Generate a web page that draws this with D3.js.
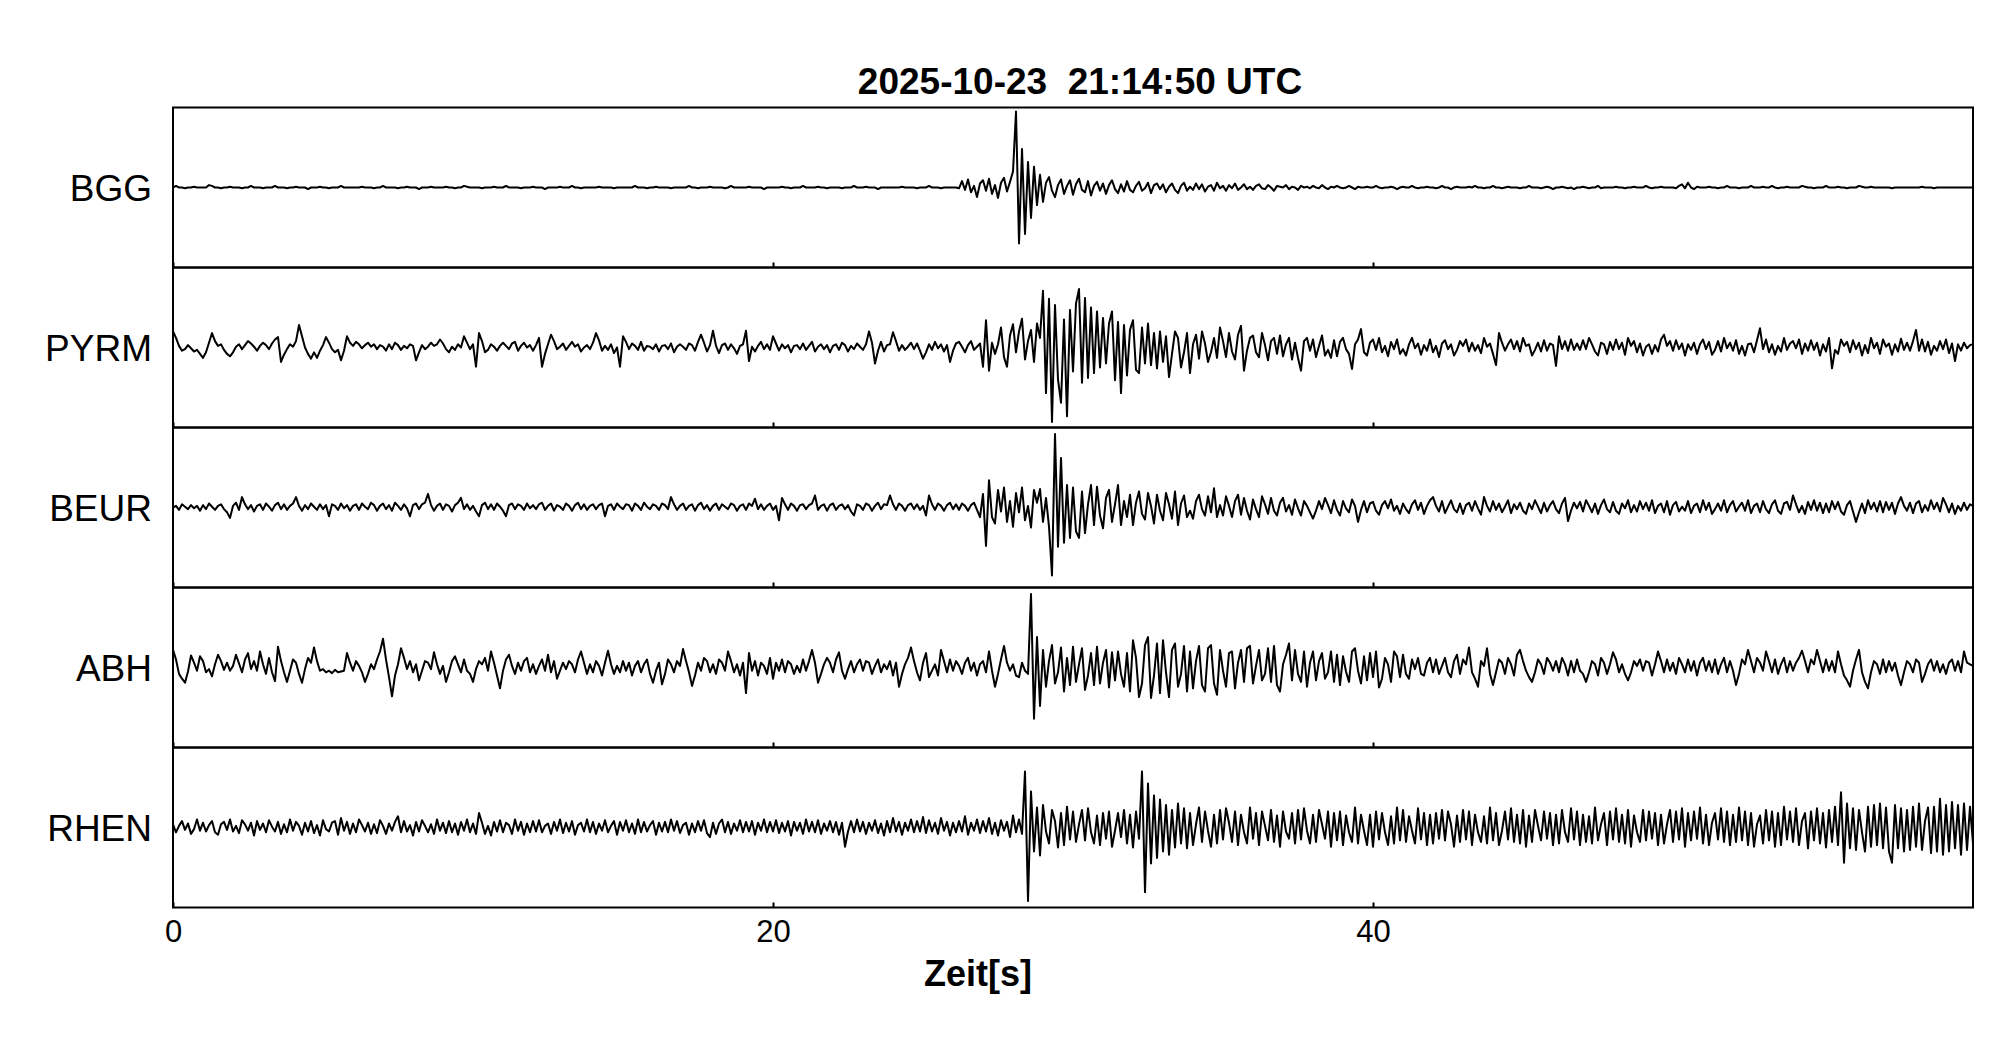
<!DOCTYPE html>
<html>
<head>
<meta charset="utf-8">
<script src="https://cdn.jsdelivr.net/npm/d3@7"></script>
<style>
body { margin: 0; background: #fff; }
text { font-family: "Liberation Sans", Arial, sans-serif; fill: #000; }
</style>
</head>
<body>
<script>
var title = "2025-10-23  21:14:50 UTC";
var xLabel = "Zeit[s]";
var stations = ["BGG", "PYRM", "BEUR", "ABH", "RHEN"];
var xTicks = [0, 20, 40];
var dt = 0.1; // seconds between samples

// normalized amplitudes, 10 samples per second
var bgg = [
0,2,0,0,-1,0,0,1,0,0, 0,0,3,2,0,0,-1,0,0,1, 0,0,0,-1,0,0,2,0,0,0, -1,0,0,0,2,0,0,0,-1,0,
0,1,0,0,0,-2,0,0,0,1, 0,0,-1,0,0,0,2,0,0,0, 0,0,0,1,0,0,0,-1,0,0, 2,0,0,0,0,-1,0,0,1,0,
0,0,-2,0,0,0,1,0,0,0, 0,1,0,0,-1,0,0,2,1,0, 0,0,0,-1,0,0,0,1,0,0, 0,2,0,0,0,0,-1,0,0,0,
1,0,0,0,-2,0,0,0,0,1, 0,0,0,2,0,0,-1,0,0,0, 0,0,1,0,0,0,0,-1,0,0, 0,0,0,0,2,0,0,0,-1,0,
0,1,0,0,0,0,-1,0,0,0, 0,0,2,0,0,-1,0,0,0,1, 0,0,0,0,-1,0,2,0,0,0, 0,0,1,0,0,0,0,-2,0,0,
0,0,0,1,0,0,-1,0,0,0, 2,0,0,0,0,1,0,0,-1,0, 0,0,0,-1,0,0,0,2,0,0, 0,1,0,0,0,-2,0,0,0,0,
0,0,0,1,0,0,0,0,-1,0, 0,0,2,0,0,0,-1,0,0,0, 0,0,-1,8,-3,10,-6,2,-12,5, 9,-4,11,-8,3,-13,6,12,-5,7,
20,95,-70,48,-58,32,-38,26,-22,16, -18,6,13,-4,-12,3,10,-8,2,9, -9,4,11,-3,-6,8,-10,2,7,-4, 5,-8,3,9,-2,-7,4,-5,8,-3,
-6,2,7,-4,-1,6,-7,3,5,-2, 4,-6,1,5,-3,-7,2,6,-4,1, -3,5,-2,4,-5,1,3,-4,6,-1, 2,-4,3,-1,5,-3,0,4,-2,1,
-3,2,4,-1,-2,3,0,-4,2,1, 0,3,-2,1,0,-3,2,0,1,-1, 2,0,-1,3,0,-2,1,0,2,0, -1,0,2,0,-2,1,0,0,1,0,
0,2,0,-1,0,0,1,0,-2,0, 1,0,0,2,0,-1,0,0,1,0, 0,-1,0,2,0,0,-2,0,1,0, 0,0,1,0,2,0,0,-1,0,0,
2,0,0,-1,0,1,0,0,0,-1, 0,0,2,0,0,0,-1,0,1,0, -2,0,0,1,0,-1,0,-2,0,0, 1,0,-1,0,0,2,-1,0,0,0,
0,1,0,0,-1,0,0,1,0,0, 0,2,0,-1,0,0,1,0,0,0, 0,-1,2,4,-1,6,0,-2,1,0, 0,0,1,0,0,-1,0,0,2,0,
0,0,-1,0,0,0,2,0,0,0, 1,0,0,2,0,-1,0,0,1,0, 0,0,0,2,1,0,0,-1,0,0, 0,2,0,0,0,1,0,0,-1,0,
0,0,2,1,0,0,1,0,0,0, 0,0,0,-1,0,0,0,0,0,0, 0,0,0,1,0,0,0,-1,0,0, 0,0,0,0,0,0,0,0,0,0,
0];

var pyrm = [
20,12,2,-4,-2,3,-1,-5,-3,-8, -13,-6,6,18,8,2,4,-3,-8,-11, -6,1,4,-2,3,8,5,1,-4,2, 6,3,-2,5,10,13,-18,-9,-2,4,
1,8,28,14,0,-8,-14,-6,-13,-4, 3,13,6,-2,-6,-3,-16,-4,14,6, 2,7,4,-1,3,6,1,4,-2,3, 1,-4,4,-2,6,3,-3,2,-1,4,
2,-16,-6,3,-2,1,6,2,4,10, 5,-2,-6,1,-3,4,0,14,6,-2, 4,-24,18,8,-6,-3,4,1,-4,2, 6,2,-2,5,7,-4,2,6,0,3,
-4,3,12,-24,-8,4,16,8,-2,1, 5,-3,2,7,1,4,-5,0,3,-2, 6,18,9,-4,2,-3,4,-7,0,-24, 14,7,-2,5,2,-3,7,-4,2,1,
-2,4,-5,2,3,-2,5,-6,1,4, 1,-3,5,3,-4,7,16,6,-5,3, 21,2,-7,3,5,-3,4,-1,-8,2, 4,21,-17,1,-5,2,7,-2,4,-3,
14,5,-4,4,-1,3,-6,2,3,-2, 5,-3,2,7,-5,1,4,-2,3,-6, 2,4,-3,6,3,-5,2,-2,5,1, -3,4,20,6,-20,-4,7,-5,3,4,
19,8,-4,3,-3,1,6,-2,5,-4, -14,-6,4,-3,7,-1,4,-5,3,-18, -4,5,7,1,-6,3,8,-3,1,5, -24,34,-29,6,-8,4,25,-12,-24,15,
29,-6,20,36,-15,8,22,-18,30,12, 71,-57,61,-93,53,-40,-69,35,-86,47, -30,55,73,-44,62,-38,50,-32,45,-25, 37,-20,30,45,-41,32,-57,28,-35,22,
34,-28,-32,25,-20,30,-22,18,-26,20, -18,14,-37,-8,20,12,-25,-6,18,-32, 4,16,-14,20,5,-18,-6,12,-13,25, 8,-12,18,-5,-15,16,27,-29,-4,12,
15,-6,-12,18,3,-16,8,12,-8,15, -11,4,12,-15,6,-13,-29,8,12,-4, 10,-12,2,15,-10,-3,-13,9,-11,7, 12,-2,-8,-27,4,10,23,-6,-10,6,
10,-3,12,-6,2,-11,7,-2,10,-8, -2,-10,4,12,-1,5,-9,3,-4,10, -6,2,-12,5,9,-2,4,-10,-3,8, 2,10,-5,6,-4,3,-7,12,1,5,
-8,-22,18,6,-4,4,10,-2,8,-5, 12,2,4,-10,-3,6,-5,9,-4,5, 3,-23,14,-2,8,-4,10,-3,5,-3, 9,-2,12,4,-5,-10,6,4,-8,7,
-3,10,-2,6,-9,12,2,8,-6,5, -10,1,4,-8,3,-5,10,16,2,8, -4,9,-2,5,-10,4,-3,6,-8,4, 10,-2,7,-9,-3,8,-5,12,-1,6,
-4,9,-8,2,-10,4,5,-6,9,24, -2,10,-6,4,-9,2,-5,12,-3,5, 8,-1,10,-8,5,-4,9,-3,6,-10, 4,-5,12,-26,-3,-8,10,2,7,-6,
9,-2,6,-10,3,-7,12,-1,6,-8, 10,1,5,-9,4,-5,11,-3,6,-4, 8,22,-4,10,-5,7,-9,2,-4,8, -2,10,-7,5,-17,4,-4,6,-1,3,
4];

var beur = [
0,2,-3,4,1,-2,3,-1,2,-4, 3,-2,5,1,-3,2,4,-2,-6,-13, 2,6,-3,13,4,-2,3,-5,2,4, -3,5,1,-4,3,6,-2,4,-3,2,
5,13,2,-4,3,-2,5,1,-3,4, -2,3,-11,4,2,-3,5,-1,3,-4, 2,4,-3,5,1,-2,6,3,-4,2, 5,-2,3,-4,6,2,-3,4,-1,-11,
3,5,-2,4,6,17,3,-4,2,5, -3,4,2,-5,3,6,12,-2,4,-3, 2,-5,-11,3,6,-2,4,-3,5,1, -4,-11,3,5,-2,4,2,-3,5,-1,
3,-2,4,6,-3,2,5,-4,3,1, -3,5,2,-4,3,6,-2,4,-3,2, 4,-2,3,5,-11,2,4,-3,5,1, -2,4,3,-4,5,2,-3,6,1,-2,
4,2,-3,5,3,-2,13,4,-3,2, 5,-3,2,4,-4,3,6,-2,3,-4, 2,5,-3,4,1,-2,5,3,-4,2, 4,-3,5,2,11,-2,4,-3,2,5,
-3,2,-16,12,4,-3,5,2,-4,3, 4,-2,3,5,15,-3,2,4,-4,3, 5,-3,2,4,-2,3,-5,-10,4,2, -3,5,3,-4,2,6,-2,4,3,15,
4,-3,5,2,-4,3,5,-2,4,-3, 2,-10,15,4,-3,5,2,-4,3,6, -2,4,-3,5,2,-4,3,6,-3,-12, 17,-48,34,-12,-20,22,-5,25,-18,8,
-24,18,-6,25,-16,2,-25,22,6,23, -18,12,-24,-85,92,-49,62,-44,28,-38, 25,-30,-38,20,-32,4,28,-22,26,-10, -26,12,22,-18,4,28,-22,8,-12,16,
-22,6,20,-8,-15,18,2,-20,16,-4, -16,18,4,-14,20,-22,5,15,-12,-4, -14,8,16,-2,-10,14,-6,24,-12,3, -10,14,2,-12,8,16,-9,12,-4,-15,
10,-2,-12,14,4,-8,12,-4,-10,6, 12,-5,3,-9,10,-1,-10,8,2,-6, -14,-4,8,-2,12,3,-7,9,-3,-10, 8,-1,-6,10,2,-18,-3,8,-6,5,
7,-4,-9,3,8,-1,10,-4,2,-8, 5,-2,-7,4,9,-3,6,-8,2,9, 13,2,-5,8,-7,1,9,-2,-6,5, -8,3,6,-4,8,-1,-9,13,2,-5,
8,-3,5,-6,1,9,-7,4,-2,6, -4,-8,5,-2,9,1,-7,6,-5,3, 8,-2,-7,5,12,-17,-4,6,-1,7, -5,9,2,-6,5,-8,3,10,-2,-6,
7,-4,-8,5,-1,9,-6,3,-5,8, -2,6,-4,9,-7,2,5,-6,8,-9, 3,7,-5,1,-4,8,-7,2,5,-6, 9,-3,6,-8,-2,5,-4,9,-6,3,
8,-5,1,6,-4,9,-7,2,5,-6, 8,-2,-7,4,9,-4,-8,5,7,-3, 15,4,-6,2,-8,7,-3,9,-4,6, -7,5,-6,8,-2,7,-5,-9,3,8,
-5,-18,-6,5,-7,9,-2,6,-5,8, -6,7,-3,6,-8,5,13,2,-4,6, -7,5,8,-6,3,-4,9,-2,6,-5, 12,4,-6,5,-8,2,-4,6,-3,4,
2];

var abh = [
22,10,-8,-14,-19,-5,15,6,-4,14, 8,-6,-2,-11,4,16,8,-3,6,-4, 2,16,5,-6,10,18,-2,8,-4,20, 4,-8,12,-6,-17,26,8,-6,-18,-4,
10,6,-8,-19,-2,12,6,25,8,-4, -2,-6,-4,-7,-3,-6,-5,-4,18,6, -4,8,2,-6,-18,-8,4,-2,10,20, 36,10,-12,-36,-10,4,24,12,-2,8,
-6,4,-16,-4,8,6,-2,19,4,-8, 2,-18,-6,8,14,4,-6,10,-4,-8, -18,-2,8,4,12,-4,20,6,-10,-26, -4,10,16,2,-8,6,-4,8,12,-6,
4,-8,2,10,-4,16,-6,8,-14,-4, 6,-2,8,4,-6,10,20,6,-8,4, -6,8,2,-10,6,21,4,-8,2,-6, 8,-4,6,-10,2,8,-6,4,10,-8,
-19,-4,6,-21,-8,10,4,-6,8,2, 23,8,-6,-23,-10,6,-4,12,8,-6, 4,-8,10,6,-4,20,8,-6,4,-10, 6,-32,18,-4,8,-10,6,2,-8,12,
-14,6,-4,10,-6,8,4,-8,2,-6, 10,-4,8,22,6,-19,-8,4,12,6, -6,10,19,-4,-14,-2,8,-6,4,10, -4,8,6,-8,2,10,-6,4,-2,8,
-10,6,-24,-8,4,12,25,8,-6,-16, 6,18,-12,-4,4,-10,22,8,-6,10, -4,8,2,-8,6,12,-4,6,-10,4, 8,-6,20,-4,-24,-8,10,27,6,-4,
4,-10,-12,6,-4,-8,92,-64,38,-48, 22,-24,8,28,-20,-6,25,-30,12,-22, 26,-18,4,24,-28,-10,18,-22,26,-20, 6,22,-25,19,-16,20,-8,-24,18,-30,
34,12,-37,-20,28,38,-38,-10,30,-32, 34,-6,-37,22,30,-24,-8,27,-30,20, -26,8,27,-22,-30,24,28,-20,-34,22, -4,-24,18,20,-26,6,22,-18,24,27,
-20,2,22,-16,-8,24,-18,27,-22,-30, 4,16,30,-16,22,-8,-18,20,-24,6, 20,-16,8,18,-14,-6,20,-18,16,-22, 14,-5,-18,20,24,-4,-20,14,-16,18,
-12,20,-25,-14,12,4,-18,20,14,-12, 16,-8,-14,10,-2,12,-8,-10,6,12, -6,10,-8,2,12,-6,-12,8,16,-8, 10,4,25,-6,-14,-24,8,2,24,-8,
-22,-6,10,6,-8,12,4,-10,16,22, 8,-4,-12,-18,-6,10,4,-8,12,6, -4,8,-6,12,4,-10,8,-6,10,-4, -8,-18,-6,8,4,-10,12,6,-8,4,
19,10,-6,4,-8,-16,-6,8,2,10, -4,8,6,-10,4,20,8,-6,10,-4, 6,-8,12,4,-6,10,-4,8,-10,6, 12,-4,8,-6,10,-8,4,12,-6,8,
-4,-22,-8,10,4,22,8,-6,12,6, -4,20,8,-6,10,-8,4,12,-6,8, -4,6,12,21,8,-6,10,4,22,8, -6,10,-4,8,-6,20,4,-10,-16,-24,
-4,10,22,-6,-18,-26,-6,8,4,-8, 10,-6,8,-4,6,-10,-22,-6,8,4, -6,10,6,-18,-8,4,10,-4,8,-6, 4,-8,6,10,-4,8,-6,20,6,4,
2];

var rhen = [
4,-6,2,8,-3,5,-8,-2,10,-4, 6,-5,3,8,-6,-9,4,7,-3,10, -5,2,-7,9,4,-4,6,-10,8,-3, 5,-6,9,1,-5,7,-8,4,-6,10,
-4,7,2,-9,6,-5,8,-7,3,-10, 9,-2,-5,6,8,-9,12,-4,7,-8, 5,-6,10,3,-5,6,-8,4,-7,9, 2,-8,5,-4,7,14,-6,8,-5,3,
-10,7,-5,9,2,-6,4,-8,10,-4, 6,-7,8,-6,5,-9,7,-4,10,-6, 5,-8,18,6,-8,2,-10,7,-5,9, -6,6,3,-8,10,-4,7,-9,5,-6,
8,-5,9,-6,2,5,-8,7,-4,10, -7,6,-5,8,-9,3,6,-5,10,-6, 7,-8,5,-4,9,-6,2,8,-9,7, -4,9,-6,5,-8,10,-6,7,-5,3,
8,-9,6,-5,7,-6,10,-4,8,-7, 3,6,-9,5,-6,8,-4,9,-7,-12, 6,-8,5,10,-6,7,-8,5,-4,9, -6,7,-5,8,-9,6,-4,10,-6,7,
-5,9,-7,6,-5,8,-10,7,-4,6, -8,10,-5,7,-6,9,-8,5,-4,8, -6,7,-9,6,-24,-5,8,-6,10,-5, 7,-8,6,-4,9,-7,5,-10,8,-6,
12,-5,7,-9,6,-4,10,-6,8,-5, 13,-7,9,-5,6,-8,12,-4,7,-10, 6,-6,8,-5,14,-9,6,-4,10,-7, 8,-5,12,-8,6,-10,9,-4,7,-12,
15,-6,10,-8,70,-92,45,-30,25,-35, 28,-5,-20,22,8,-25,18,-22,26,-15, 20,-18,4,22,-16,24,-6,-20,15,-22, 18,-14,20,-24,-4,18,-12,22,-20,16,
-25,20,-14,70,-81,55,-45,40,-38,35, -30,28,-34,22,-25,30,-20,24,-26,18, -22,4,25,-18,20,-4,-24,16,-20,22, -15,24,6,-18,20,-22,16,-6,-20,25,
-14,18,-22,20,2,-16,22,-18,15,-24, 20,-5,-14,18,-20,22,-15,24,-4,-20, 16,-18,22,4,-14,20,-24,18,-16,20, -22,15,-6,-18,25,-20,16,-4,-22,16,
-24,20,-15,18,-6,-22,14,-20,25,-16, 22,-18,14,-4,-20,24,-15,18,-22,16, -20,18,-14,22,-16,20,4,-24,15,-18, 22,-15,20,-22,16,-6,-18,14,-20,25,
-16,18,-22,-4,20,-15,24,-18,16,-20, 22,-24,15,-18,22,2,-16,20,-14,18, -22,16,-20,22,-6,-18,24,-15,20,-22, 16,-18,14,-20,25,-16,4,18,-22,20,
-15,24,-18,16,-20,22,-24,15,-6,-18, 22,-16,20,-14,18,-22,16,-20,4,22, -18,20,-15,24,-24,18,-16,20,-14,25, -20,16,-22,6,18,-15,24,-18,20,-22,
16,-18,25,-16,20,-22,18,-24,4,15, -20,22,-16,20,-24,18,-22,26,-15,20, -18,24,-22,8,18,-26,20,-16,24,-20, 18,-25,22,-18,26,-22,44,-44,30,-26,
24,-28,22,-6,-30,26,-24,28,-22,30, -26,25,-30,-44,28,-26,24,-30,22,-28, 26,-24,30,-28,8,25,-32,26,-30,36, -34,28,-30,32,-26,28,-34,30,-28,26,
-20];

var traces = [bgg, pyrm, beur, abh, rhen];

var margin = {top: 107.5, right: 32, bottom: 133.5, left: 173};
var width = 2005 - margin.left - margin.right;
var height = 1041 - margin.top - margin.bottom;

var xScale = d3.scaleLinear().domain([0, 60]).range([0, width]);
var panelScale = d3.scaleBand().domain(stations).range([0, height]);
var yScale = d3.scaleLinear().domain([-100, 100]).range([panelScale.bandwidth(), 0]);

var svg = d3.select("body").append("svg")
.attr("width", 2005)
.attr("height", 1041);

var mySVG = svg.append("g")
.attr("transform", "translate(" + margin.left + "," + margin.top + ")");

var linePath = d3.line()
.x(function(d, i) { return xScale(i * dt); })
.y(function(d) { return yScale(d); });

var panels = mySVG.selectAll(".panel")
.data(stations)
.enter().append("g")
.attr("class", "panel")
.attr("transform", function(d) { return "translate(0," + panelScale(d) + ")"; });

panels.append("clipPath")
.attr("id", function(d) { return "clip-" + d; })
.append("rect")
.attr("width", width)
.attr("height", panelScale.bandwidth());

panels.append("path")
.attr("clip-path", function(d) { return "url(#clip-" + d + ")"; })
.attr("fill", "none")
.attr("stroke", "black")
.attr("stroke-width", 2)
.attr("stroke-linejoin", "round")
.attr("d", function(d, i) { return linePath(traces[i]); });

// small inward ticks at the bottom of every panel
panels.append("g")
.attr("class", "ticks")
.attr("transform", "translate(0," + panelScale.bandwidth() + ")")
.each(function(d, i) {
  var axis = d3.axisBottom(xScale).tickValues(xTicks).tickSize(-5).tickPadding(12);
  if (i < stations.length - 1) axis.tickFormat("");
  d3.select(this).call(axis);
});

mySVG.selectAll(".ticks .domain").remove();
mySVG.selectAll(".ticks line").attr("stroke", "black").attr("stroke-width", 2);
mySVG.selectAll(".ticks text")
.style("font-family", "'Liberation Sans', Arial, sans-serif")
.style("font-size", "31px");

panels.append("rect")
.attr("width", width)
.attr("height", panelScale.bandwidth())
.attr("fill", "none")
.attr("stroke", "black")
.attr("stroke-width", 2);

panels.append("text")
.attr("x", -21)
.attr("y", panelScale.bandwidth() / 2 + 13.5)
.attr("text-anchor", "end")
.style("font-size", "37px")
.text(function(d) { return d; });

svg.append("text")
.attr("x", 1080)
.attr("y", 94)
.attr("text-anchor", "middle")
.style("font-size", "37px")
.style("font-weight", "bold")
.style("white-space", "pre")
.text(title);

svg.append("text")
.attr("x", 978)
.attr("y", 986)
.attr("text-anchor", "middle")
.style("font-size", "36px")
.style("font-weight", "bold")
.text(xLabel);
</script>
</body>
</html>
